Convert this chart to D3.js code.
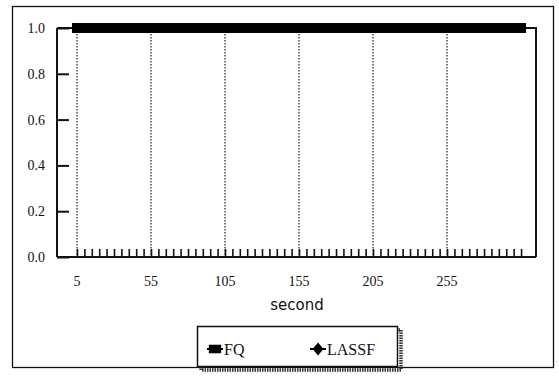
<!DOCTYPE html>
<html>
<head>
<meta charset="utf-8">
<script src="https://cdn.jsdelivr.net/npm/d3@7"></script>
<style>
  body { margin: 0; background: #fff; }
  svg { display: block; }
</style>
</head>
<body>
<svg id="chart" width="559" height="377"></svg>
<script>
// data: both series sit at 1.0 the whole time
const seconds = d3.range(5, 306, 5);
const fqValues = seconds.map(() => 1.0);
const lassfValues = seconds.map(() => 1.0);
const xTickValues = [5, 55, 105, 155, 205, 255];
const yTickValues = [0, 0.2, 0.4, 0.6, 0.8, 1.0];
const seriesNames = ["FQ", "LASSF"];

const svg = d3.select("#chart");
const plotLeft = 57, plotRight = 536, plotTop = 28, plotBottom = 257;

// outer frame
svg.append("rect")
  .attr("x", 12.5).attr("y", 6.5)
  .attr("width", 541).attr("height", 361)
  .attr("fill", "none").attr("stroke", "#111").attr("stroke-width", 1.3);

const xScale = d3.scaleLinear().domain([-8.5, 315.1]).range([plotLeft, plotRight]);
const yScale = d3.scaleLinear().domain([0, 1]).range([plotBottom, plotTop]);

// plot box (top + right)
svg.append("path")
  .attr("d", `M${plotLeft},${plotTop}H${plotRight}V${plotBottom}`)
  .attr("fill", "none").attr("stroke", "#111").attr("stroke-width", 2);

// dotted vertical gridlines
svg.append("g")
  .selectAll("line")
  .data(xTickValues)
  .join("line")
  .attr("x1", d => xScale(d)).attr("x2", d => xScale(d))
  .attr("y1", plotTop).attr("y2", plotBottom)
  .attr("stroke", "#222").attr("stroke-width", 1.2)
  .attr("stroke-dasharray", "1.5,1.5");

// y axis, ticks pointing inward
const yAxis = svg.append("g")
  .attr("transform", `translate(${plotLeft},0)`)
  .call(d3.axisRight(yScale).tickValues(yTickValues).tickSize(12).tickFormat(d3.format(".1f")));
yAxis.select(".domain").attr("stroke", "#111").attr("stroke-width", 2).attr("d", `M0,${plotTop}V${plotBottom}`);
yAxis.selectAll(".tick line").attr("stroke", "#111").attr("stroke-width", 2);
yAxis.selectAll(".tick text")
  .attr("x", -12).attr("text-anchor", "end")
  .style("font-family", "Liberation Serif, serif").style("font-size", "14px").attr("fill", "#111");

// x axis: minor ticks every 5 s pointing up, labels every 50 s
const xAxis = svg.append("g")
  .attr("transform", `translate(0,${plotBottom})`)
  .call(d3.axisTop(xScale).tickValues(seconds).tickSize(8).tickFormat(""));
xAxis.select(".domain").attr("stroke", "#111").attr("stroke-width", 2).attr("d", `M${plotLeft},0H${plotRight}`);
xAxis.selectAll(".tick line").attr("stroke", "#111").attr("stroke-width", 1.6);

svg.append("g")
  .selectAll("text")
  .data(xTickValues)
  .join("text")
  .attr("x", d => xScale(d)).attr("y", 286)
  .attr("text-anchor", "middle")
  .style("font-family", "Liberation Serif, serif").style("font-size", "14px").attr("fill", "#111")
  .text(d => d);

svg.append("text")
  .attr("x", 297).attr("y", 310)
  .attr("text-anchor", "middle")
  .style("font-family", "DejaVu Sans, sans-serif").style("font-size", "15px").attr("fill", "#111")
  .text("second");

// series
const line = d3.line().x(d => xScale(d[0])).y(d => yScale(d[1]));
const fqData = seconds.map((s, i) => [s, fqValues[i]]);
const lassfData = seconds.map((s, i) => [s, lassfValues[i]]);

svg.append("path").datum(fqData).attr("d", line)
  .attr("fill", "none").attr("stroke", "#000").attr("stroke-width", 2);
svg.append("path").datum(lassfData).attr("d", line)
  .attr("fill", "none").attr("stroke", "#000").attr("stroke-width", 2);

const square = d3.symbol().type(d3.symbolSquare).size(100);
const diamond = d3.symbol().type(d3.symbolDiamond).size(30);

svg.append("g").selectAll("path").data(fqData).join("path")
  .attr("transform", d => `translate(${xScale(d[0])},${yScale(d[1])})`)
  .attr("d", square).attr("fill", "#000");
svg.append("g").selectAll("path").data(lassfData).join("path")
  .attr("transform", d => `translate(${xScale(d[0])},${yScale(d[1])})`)
  .attr("d", diamond).attr("fill", "#000");

// legend with hatched shadow
const legend = svg.append("g");
legend.append("rect")
  .attr("x", 201).attr("y", 330).attr("width", 200).attr("height", 40)
  .attr("fill", "none").attr("stroke", "#333").attr("stroke-width", 3.5)
  .attr("stroke-dasharray", "1.5,1");
legend.append("rect")
  .attr("x", 197.5).attr("y", 326.5).attr("width", 200).attr("height", 40)
  .attr("fill", "#fff").attr("stroke", "#111").attr("stroke-width", 1.5);

const legendSquare = d3.symbol().type(d3.symbolSquare).size(90);
const legendDiamond = d3.symbol().type(d3.symbolDiamond).size(60);
const legendItems = [
  { name: seriesNames[0], sym: legendSquare, x: 215 },
  { name: seriesNames[1], sym: legendDiamond, x: 318 }
];
legend.selectAll("g.item").data(legendItems).join("g")
  .attr("class", "item")
  .each(function(d) {
    const g = d3.select(this);
    g.append("line").attr("x1", d.x - 8).attr("x2", d.x + 8).attr("y1", 349).attr("y2", 349)
      .attr("stroke", "#000").attr("stroke-width", 2);
    g.append("path").attr("transform", `translate(${d.x},349) scale(1.3,0.9)`).attr("d", d.sym).attr("fill", "#000");
    g.append("text").attr("x", d.x + 9).attr("y", 355)
      .style("font-family", "Liberation Serif, serif").style("font-size", "16px").attr("fill", "#111")
      .text(d.name);
  });
</script>
</body>
</html>
